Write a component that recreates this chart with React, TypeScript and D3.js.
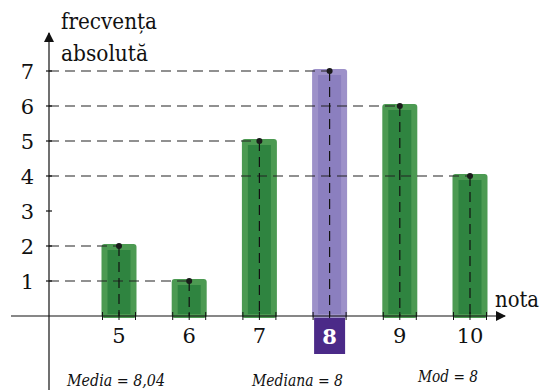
import React from "react";
import * as d3 from "d3";

const notes = [5, 6, 7, 8, 9, 10];
const freq = [2, 1, 5, 7, 6, 4];
const yTicks = [1, 2, 3, 4, 5, 6, 7];
const dashedLevels = [1, 2, 4, 5, 6, 7];
const medianNote = 8;
const footer = [
  { text: "Media = 8,04", x: 67, y: 386, len: 98 },
  { text: "Mediana = 8", x: 252, y: 386, len: 91 },
  { text: "Mod = 8", x: 418, y: 382, len: 60 },
];

const W = 544;
const H = 390;
const x = d3.scaleLinear().domain([5, 10]).range([119, 470]);
const y = d3.scaleLinear().domain([0, 7]).range([316, 71]);
const axisX = 49;
const font = "DejaVu Serif";

export default function App() {
  const bw = 35;
  return (
    <svg width={W} height={H} style={{ position: "absolute", left: 0, top: 0 }} fontFamily={font}>
      <defs>
        <marker id="arr" viewBox="0 0 10 10" refX="9" refY="5" markerWidth="10" markerHeight="10" markerUnits="userSpaceOnUse" orient="auto">
          <path d="M0,0 L10,5 L0,10 Z" fill="#111" />
        </marker>
      </defs>
      {notes.map((n, i) => {
        const cx = x(n);
        const top = y(freq[i]) - 2;
        const isMed = n === medianNote;
        const outer = isMed ? "#9d91c9" : "#4c9a52";
        const inner = isMed ? "#8b7fbf" : "#2f8440";
        return (
          <g key={n}>
            <rect x={cx - bw / 2} y={top} width={bw} height={318 - top} rx={3} fill={outer} />
            <rect x={cx - bw / 2 + 6} y={top + 6} width={bw - 12} height={318 - top - 10} fill={inner} />
          </g>
        );
      })}
      {dashedLevels.map((v) => {
        const idx = freq.lastIndexOf(v);
        const ex = x(notes[idx]);
        return (
          <line key={v} x1={axisX} x2={ex} y1={y(v)} y2={y(v)} stroke="#222" strokeWidth={1.2} strokeDasharray="10,6" />
        );
      })}
      {notes.map((n, i) => (
        <line key={n} x1={x(n)} x2={x(n)} y1={y(freq[i])} y2={316} stroke="#111" strokeWidth={1.2} strokeDasharray="10,6" />
      ))}
      <line x1={11} x2={505} y1={316} y2={316} stroke="#111" strokeWidth={1.2} markerEnd="url(#arr)" />
      <line x1={axisX} x2={axisX} y1={390} y2={33} stroke="#111" strokeWidth={1.2} markerEnd="url(#arr)" />
      {yTicks.map((t) => (
        <g key={t}>
          <line x1={axisX - 3} x2={axisX + 3} y1={y(t)} y2={y(t)} stroke="#111" strokeWidth={1.2} />
          <text x={34} y={y(t) + 8} fontSize={21} textAnchor="end" fill="#111">{t}</text>
        </g>
      ))}
      {notes.map((n) => (
        <g key={n}>
          {[-bw / 2 + 1, 0, bw / 2 - 1].map((d) => (
            <line key={d} x1={x(n) + d} x2={x(n) + d} y1={312} y2={320} stroke="#111" strokeWidth={1} />
          ))}
        </g>
      ))}
      {notes.map((n, i) => (
        <circle key={n} cx={x(n)} cy={y(freq[i])} r={3} fill="#1a1a1a" />
      ))}
      {notes.map((n) =>
        n === medianNote ? (
          <g key={n}>
            <rect x={x(n) - 15.5} y={318} width={31} height={36} fill="#4b2a88" />
            <text x={x(n)} y={344} fontSize={21} fontWeight="bold" textAnchor="middle" fill="#fff">{n}</text>
          </g>
        ) : (
          <text key={n} x={x(n)} y={343} fontSize={21} textAnchor="middle" fill="#111">{n}</text>
        )
      )}
      <text x={61} y={29} fontSize={22} fill="#111" textLength={96} lengthAdjust="spacingAndGlyphs">frecvența</text>
      <text x={61} y={61} fontSize={22} fill="#111" textLength={87} lengthAdjust="spacingAndGlyphs">absolută</text>
      <text x={495} y={307} fontSize={22} fill="#111" textLength={44} lengthAdjust="spacingAndGlyphs">nota</text>
      {footer.map((f) => (
        <text key={f.text} x={f.x} y={f.y} fontSize={16} fontStyle="italic" fill="#111" textLength={f.len} lengthAdjust="spacingAndGlyphs">{f.text}</text>
      ))}
    </svg>
  );
}
